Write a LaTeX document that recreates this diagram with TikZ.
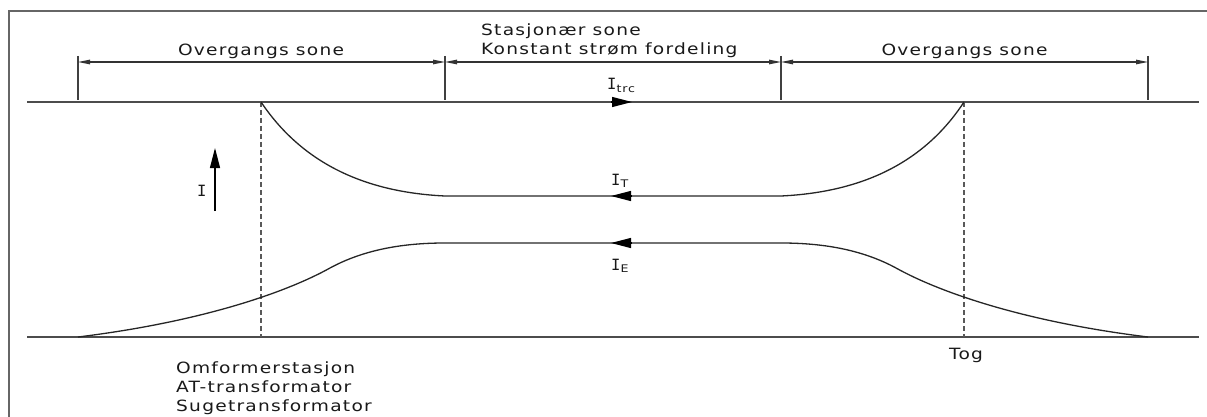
\documentclass[tikz,border=0pt]{standalone}
\usepackage{fontspec}
\setmainfont{DejaVu Sans}[FakeStretch=1.2, LetterSpace=8]
\newfontfamily\serifI{DejaVu Sans Mono}
\usetikzlibrary{arrows.meta}

\tikzset{
  frameline/.style={draw=black!60, line width=2pt},
  baseline/.style={draw=black!70, line width=1.6pt},
  curve/.style={draw=black!85, line width=1.3pt},
  guide/.style={draw=black!65, line width=1.4pt, dash pattern=on 5pt off 3pt},
  extline/.style={draw=black!75, line width=1.2pt},
  dimline/.style={draw=black!80, line width=1.1pt,
    {Triangle[length=12pt,width=4.5pt]}-{Triangle[length=12pt,width=4.5pt]}},
  flow/.style={draw=black, line width=1.2pt, -{Triangle[length=20pt,width=10pt]}},
  lbl/.style={inner sep=0pt, text=black!90, font=\fontsize{15.5}{19}\selectfont},
}
\newcommand{\curr}[1]{{\serifI I}\raisebox{-2.5pt}{\fontsize{10.5}{12}\selectfont #1}}

\begin{document}
\begin{tikzpicture}[x=1pt, y=-1pt]
\useasboundingbox (0,0) rectangle (1207,417);

% partial frame
\draw[frameline] (9,417) -- (9,11) -- (1207,11);

% extension lines of the zone dimensions
\foreach \x in {78,445,781,1148}
  \draw[extline] (\x,56) -- (\x,100);

% zone dimension lines
\draw[dimline] (78,62) -- (445,62);
\draw[dimline] (445,62) -- (781,62);
\draw[dimline] (781,62) -- (1148,62);

\node[lbl, anchor=base] (ovl) at (261,56) {Overgangs sone};
\node[lbl, anchor=base] (ovr) at (964.5,56) {Overgangs sone};
\node[lbl, anchor=base west] (stas) at (481,36) {Stasjonær sone};
\node[lbl, anchor=base west] (konst) at (481,55) {Konstant strøm fordeling};

% rail lines
\draw[baseline] (27,102) -- (1199,102);
\draw[baseline] (27,337) -- (1199,337);

% source and train positions
\draw[guide] (261,102) -- (261,337);
\draw[guide] (964,102) -- (964,337);

% contact wire current I_T
\draw[curve] (261,102) .. controls (300,160) and (360,192) .. (445,196)
  -- (781,196) .. controls (866,192) and (926,160) .. (964,102);

% earth current I_E
\draw[curve] (78,337) .. controls (200,322) and (285,293) .. (330,268)
  .. controls (365,249) and (405,243) .. (445,243)
  -- (781,243) .. controls (821,243) and (861,249) .. (896,268)
  .. controls (941,293) and (1026,322) .. (1148,337);

% current direction arrows
\draw[flow] (611,102) -- (632,102);
\draw[flow] (632,196) -- (611,196);
\draw[flow] (632,243) -- (611,243);
\draw[flow] (215,211) -- (215,148);

\node[lbl, anchor=base west] (itrc) at (607,90) {\curr{trc}};
\node[lbl, anchor=base west] (it) at (611,185) {\curr{T}};
\node[lbl, anchor=base west] (ie) at (611,270) {\curr{E}};
\node[lbl, anchor=base west] (iaxis) at (197,196) {{\serifI I}};

\node[lbl, anchor=base west] (omf) at (176,373) {Omformerstasjon};
\node[lbl, anchor=base west] (atr) at (176,392) {AT-transformator};
\node[lbl, anchor=base west] (sug) at (176,411) {Sugetransformator};
\node[lbl, anchor=base] (tog) at (966,359) {Tog};
\end{tikzpicture}
\end{document}
